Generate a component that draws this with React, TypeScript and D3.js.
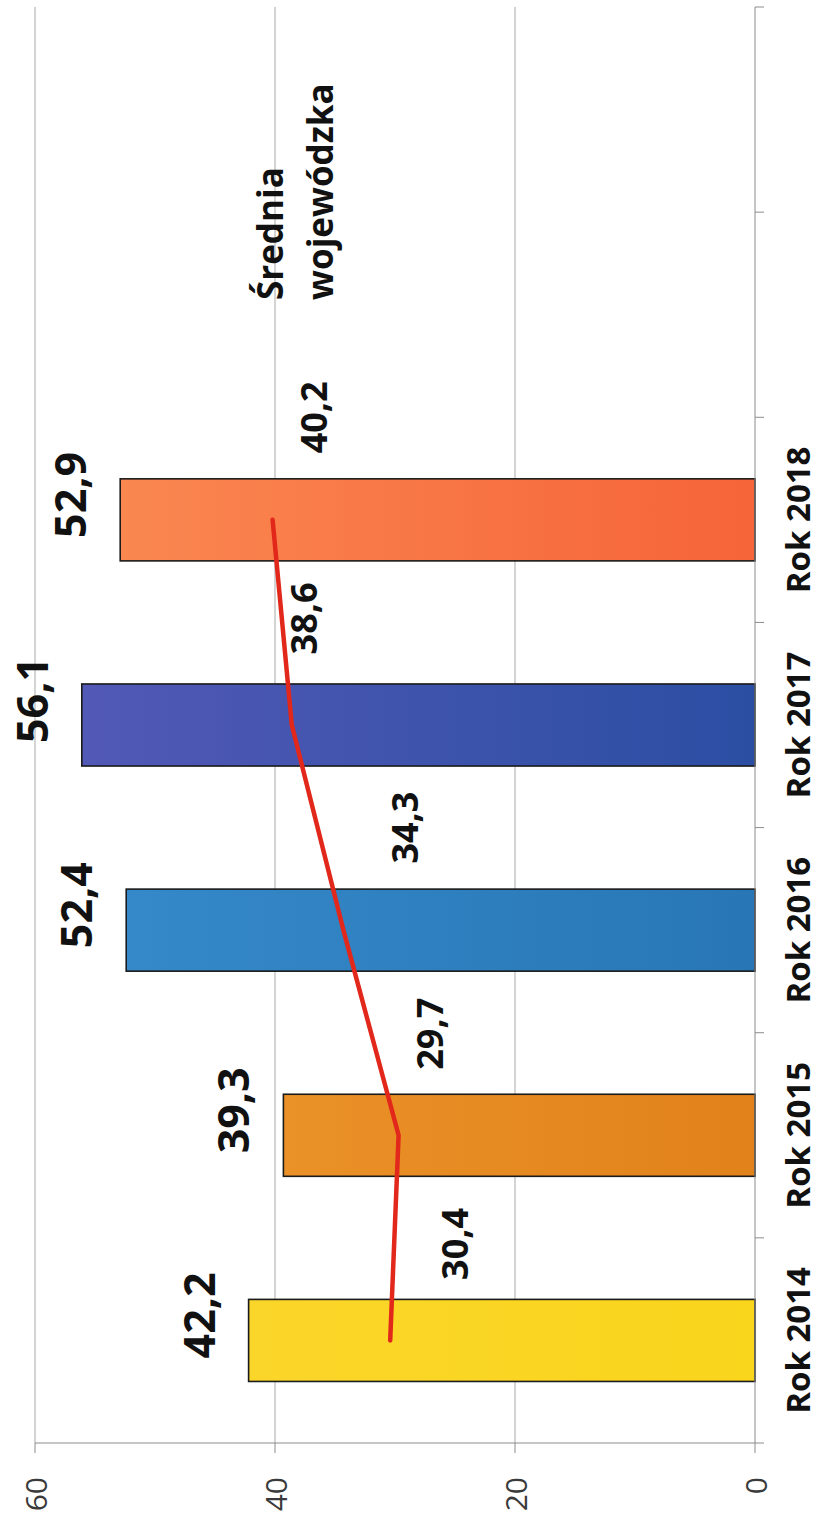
import { useEffect, useRef } from 'react';
import * as d3 from 'd3';

// chart data (read from the scanned, rotated figure)
const years = ['Rok 2014', 'Rok 2015', 'Rok 2016', 'Rok 2017', 'Rok 2018'];
const spareSlots = ['pad1', 'pad2'];
const barValues = [42.2, 39.3, 52.4, 56.1, 52.9];
const avgValues = [30.4, 29.7, 34.3, 38.6, 40.2];
const valueTicks = [0, 20, 40, 60];
const avgTitle = ['Średnia', 'wojewódzka'];
const barColors: [string, string][] = [
  ['#fbd62a', '#f9d51c'],
  ['#ea9128', '#e1821a'],
  ['#3589c8', '#2876b6'],
  ['#5259b6', '#2b4ea3'],
  ['#fa8750', '#f6643a'],
];

// page is a chart rotated 90deg counter-clockwise: draw it upright, then turn it
const W = 1526;
const H = 821;
const PLOT = { left: 83, right: 1519, top: 35, bottom: 755 };
const FONT = '"Open Sans", "DejaVu Sans", sans-serif';
const avgLabelDrop = [78, 44, 75, 25, 54];
const avgLabelShift = [-6, -1, 0, 4, 0];

const fmt = (v: number) => d3.format('.1f')(v).replace('.', ',');

export default function App() {
  const svgRef = useRef<SVGSVGElement>(null);

  useEffect(() => {
    if (!svgRef.current) return;
    const svg = d3.select(svgRef.current);
    svg.selectAll('*').remove();

    const x = d3
      .scaleBand<string>()
      .domain([...years, ...spareSlots])
      .range([PLOT.left, PLOT.right])
      .padding(0);
    const y = d3.scaleLinear().domain([0, 60]).range([PLOT.bottom, PLOT.top]);
    const step = x.step();
    const barW = step * 0.4;
    const cx = (c: string) => (x(c) ?? 0) + step / 2;

    const defs = svg.append('defs');
    barColors.forEach((c, i) => {
      const gr = defs
        .append('linearGradient')
        .attr('id', `bg${i}`)
        .attr('x1', 0)
        .attr('y1', 0)
        .attr('x2', 0)
        .attr('y2', 1);
      gr.append('stop').attr('offset', '0%').attr('stop-color', c[0]);
      gr.append('stop').attr('offset', '100%').attr('stop-color', c[1]);
    });

    const g = svg.append('g').attr('transform', `translate(0,${W}) rotate(-90)`);

    // gridlines
    g.selectAll('.grid')
      .data(valueTicks.filter((t) => t > 0))
      .join('line')
      .attr('x1', PLOT.left)
      .attr('x2', PLOT.right)
      .attr('y1', (d) => y(d))
      .attr('y2', (d) => y(d))
      .attr('stroke', '#a9a9a9')
      .attr('stroke-width', 1);

    // value axis
    g.append('line')
      .attr('x1', PLOT.left)
      .attr('x2', PLOT.left)
      .attr('y1', y(60))
      .attr('y2', y(0))
      .attr('stroke', '#8c8c8c');
    g.selectAll('.vtick')
      .data(valueTicks)
      .join('line')
      .attr('x1', PLOT.left - 10)
      .attr('x2', PLOT.left)
      .attr('y1', (d) => y(d))
      .attr('y2', (d) => y(d))
      .attr('stroke', '#8c8c8c');
    g.selectAll('.vlab')
      .data(valueTicks)
      .join('text')
      .attr('x', 49)
      .attr('y', (d) => y(d))
      .attr('text-anchor', 'end')
      .attr('dominant-baseline', 'central')
      .attr('font-family', FONT)
      .attr('font-size', 30)
      .attr('fill', '#3a3a3a')
      .text((d) => String(d));

    // bars
    g.selectAll('.bar')
      .data(barValues)
      .join('rect')
      .attr('x', (_, i) => cx(years[i]) - barW / 2)
      .attr('y', (d) => y(d))
      .attr('width', barW)
      .attr('height', (d) => y(0) - y(d))
      .attr('fill', (_, i) => `url(#bg${i})`)
      .attr('stroke', '#1b1b1b')
      .attr('stroke-width', 1.6);

    // category axis
    g.append('line')
      .attr('x1', PLOT.left)
      .attr('x2', PLOT.right)
      .attr('y1', y(0))
      .attr('y2', y(0))
      .attr('stroke', '#8c8c8c');
    const bounds = [...x.domain().map((c) => x(c) ?? 0), PLOT.right];
    g.selectAll('.ctick')
      .data(bounds)
      .join('line')
      .attr('x1', (d) => d)
      .attr('x2', (d) => d)
      .attr('y1', y(0))
      .attr('y2', y(0) + 9)
      .attr('stroke', '#8c8c8c');
    g.selectAll('.clab')
      .data(years)
      .join('text')
      .attr('x', (d) => cx(d))
      .attr('y', 810)
      .attr('text-anchor', 'middle')
      .attr('font-family', FONT)
      .attr('font-weight', 700)
      .attr('font-size', 33)
      .attr('fill', '#111')
      .text((d) => d);

    // bar value labels
    g.selectAll('.blab')
      .data(barValues)
      .join('text')
      .attr('x', (_, i) => cx(years[i]) + 25)
      .attr('y', (d) => y(d) - 34)
      .attr('text-anchor', 'middle')
      .attr('font-family', FONT)
      .attr('font-weight', 700)
      .attr('font-size', 43)
      .attr('fill', '#111')
      .text((d) => fmt(d));

    // regional average line
    const line = d3
      .line<number>()
      .x((_, i) => cx(years[i]))
      .y((d) => y(d));
    g.append('path')
      .datum(avgValues)
      .attr('d', line)
      .attr('fill', 'none')
      .attr('stroke', '#e2271b')
      .attr('stroke-width', 4.5)
      .attr('stroke-linecap', 'round')
      .attr('stroke-linejoin', 'round');

    g.selectAll('.alab')
      .data(avgValues)
      .join('text')
      .attr('x', (_, i) => cx(years[i]) + step / 2 + avgLabelShift[i])
      .attr('y', (d, i) => y(d) + avgLabelDrop[i])
      .attr('text-anchor', 'middle')
      .attr('font-family', FONT)
      .attr('font-weight', 700)
      .attr('font-size', 36)
      .attr('fill', '#111')
      .text((d) => fmt(d));

    // series title
    g.selectAll('.title')
      .data(avgTitle)
      .join('text')
      .attr('x', 1226)
      .attr('y', (_, i) => 283 + i * 50)
      .attr('font-family', FONT)
      .attr('font-weight', 700)
      .attr('font-size', 35)
      .attr('fill', '#111')
      .text((d) => d);
  }, []);

  return (
    <svg
      ref={svgRef}
      width={H}
      height={W}
      style={{ position: 'absolute', left: 0, top: 0, background: '#fff' }}
    />
  );
}
